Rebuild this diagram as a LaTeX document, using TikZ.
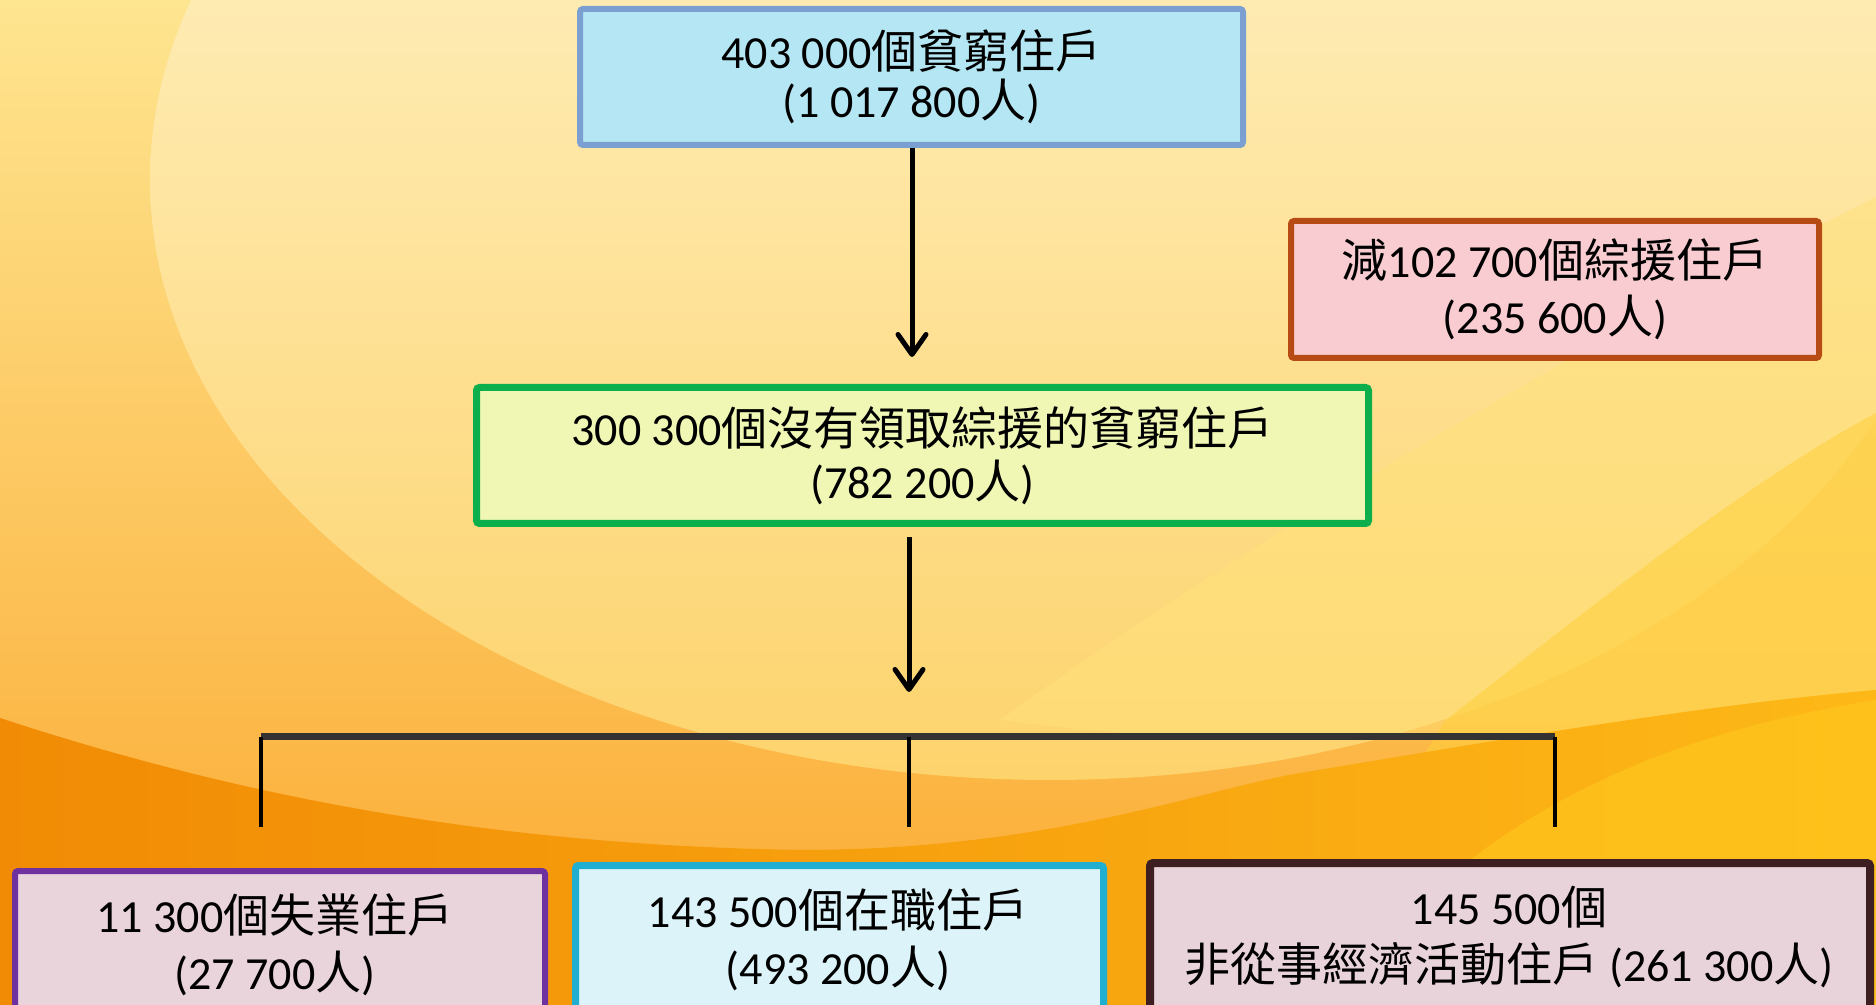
\documentclass[tikz,border=0pt]{standalone}
\usepackage{fontspec}
\setmainfont{Carlito}
\newfontfamily\cjk{Noto Sans CJK TC}
\newcommand\zh[1]{{\cjk #1}}
\usetikzlibrary{arrows.meta}
\definecolor{bgtop}{HTML}{FEE590}
\definecolor{bgbot}{HTML}{FBA82E}
\definecolor{paletop}{HTML}{FFF8D8}
\definecolor{palemid}{HTML}{FEEDA5}
\definecolor{palebot}{HTML}{FDD36C}
\definecolor{orL}{HTML}{F18B05}
\definecolor{orR}{HTML}{FDB817}
\definecolor{yelA}{HTML}{FFE27A}
\definecolor{yelB}{HTML}{FFD03A}
\definecolor{yelC}{HTML}{FFC81E}
\definecolor{topfill}{HTML}{B4E7F3}
\definecolor{topline}{HTML}{7C9FD2}
\definecolor{rfill}{HTML}{F8CCD0}
\definecolor{rline}{HTML}{B74B16}
\definecolor{mfill}{HTML}{F0F7B4}
\definecolor{mline}{HTML}{0CAF4C}
\definecolor{afill}{HTML}{E9D4DB}
\definecolor{aline}{HTML}{7031A0}
\definecolor{bfill}{HTML}{DCF4F9}
\definecolor{bline}{HTML}{20AFD0}
\definecolor{cfill}{HTML}{E8D3DA}
\definecolor{cline}{HTML}{3D1F22}
\definecolor{barc}{HTML}{333333}
\tikzset{
  boxst/.style={draw, rounded corners=1.5pt, inner sep=0pt, align=center},
  txtst/.style={align=center, inner sep=0pt, font=\fontsize{23}{28.5}\selectfont},
  arr/.style={draw=black, line width=2.5pt, -{Straight Barb[length=10pt,width=14pt,round]}},
  brk/.style={draw=black, line width=2pt},
  barst/.style={draw=barc, line width=3.5pt},
}
\begin{document}
\begin{tikzpicture}[x={(0.5pt,0)}, y={(0,-0.5pt)}]
\useasboundingbox (0,0) rectangle (1876,1005);
\clip (0,0) rectangle (1876,1005);
% background
\shade[top color=bgtop, bottom color=bgbot] (0,0) rectangle (1876,1005);
\shade[top color=paletop, middle color=palemid, bottom color=palebot] (1050,180) ellipse [x radius=450pt, y radius=300pt];
\fill[yelA, opacity=0.5] (1000,720) .. controls (1250,540) and (1550,360) .. (1876,197) -- (1876,720) .. controls (1600,730) and (1300,760) .. (1000,720) -- cycle;
\fill[yelB, opacity=0.55] (1300,1005) .. controls (1380,820) and (1420,760) .. (1446,720) .. controls (1600,600) and (1750,480) .. (1876,413) -- (1876,1005) -- cycle;
\shade[left color=orL, right color=orR] (0,718) .. controls (250,800) and (500,845) .. (800,850) .. controls (1050,850) and (1200,790) .. (1300,773) .. controls (1500,740) and (1700,705) .. (1876,690) -- (1876,1005) -- (0,1005) -- cycle;
\fill[yelC, opacity=0.6] (1440,1005) -- (1470,860) .. controls (1600,760) and (1750,720) .. (1876,700) -- (1876,1005) -- cycle;
% boxes
\node[boxst, fill=topfill, draw=topline, line width=3pt, minimum width=331.5pt, minimum height=68pt, font=\fontsize{23}{24.5}\selectfont] (top) at (911.5,77) {403 000\zh{個貧窮住戶}\\(1 017 800\zh{人})};
\node[boxst, fill=rfill, draw=rline, line width=3pt, minimum width=264pt, minimum height=68.5pt, font=\fontsize{23}{28}\selectfont] (minus) at (1555,289.5) {\zh{減}102 700\zh{個綜援住戶}\\(235 600\zh{人})};
\node[boxst, fill=mfill, draw=mline, line width=3.5pt, minimum width=446pt, minimum height=68pt, font=\fontsize{23}{26.5}\selectfont] (mid) at (922.5,455.5) {300 300\zh{個沒有領取綜援的貧窮住戶}\\(782 200\zh{人})};
\node[boxst, fill=afill, draw=aline, line width=3pt, minimum width=265pt, minimum height=93pt] (b1box) at (280,964) {};
\node[boxst, fill=bfill, draw=bline, line width=3.5pt, minimum width=264pt, minimum height=95.5pt] (b2box) at (839.5,961) {};
\node[boxst, fill=cfill, draw=cline, line width=4pt, minimum width=360pt, minimum height=96.5pt] (b3box) at (1510,959.5) {};
\node[txtst] (b1) at (275,945) {11 300\zh{個失業住戶}\\(27 700\zh{人})};
\node[txtst] (b2) at (838,940) {143 500\zh{個在職住戶}\\(493 200\zh{人})};
\node[txtst] (b3) at (1509,936.5) {145 500\zh{個}\\\zh{非從事經濟活動住戶} (261 300\zh{人})};
% arrows
\coordinate (a1) at (912,357);
\draw[arr] (top.south -| a1) -- (a1);
\coordinate (a2) at (909,692);
\draw[arr, shorten <=5pt] (mid.south -| a2) -- (a2);
% bracket
\coordinate (bl) at (261,736.5);
\coordinate (bm) at (909,736.5);
\coordinate (br) at (1555,736.5);
\coordinate (l1) at (261,827);
\coordinate (l2) at (909,827);
\coordinate (l3) at (1555,827);
\draw[barst] (bl) -- (br);
\draw[brk] (bl) -- (l1);
\draw[brk] (bm) -- (l2);
\draw[brk] (br) -- (l3);
\end{tikzpicture}
\end{document}
